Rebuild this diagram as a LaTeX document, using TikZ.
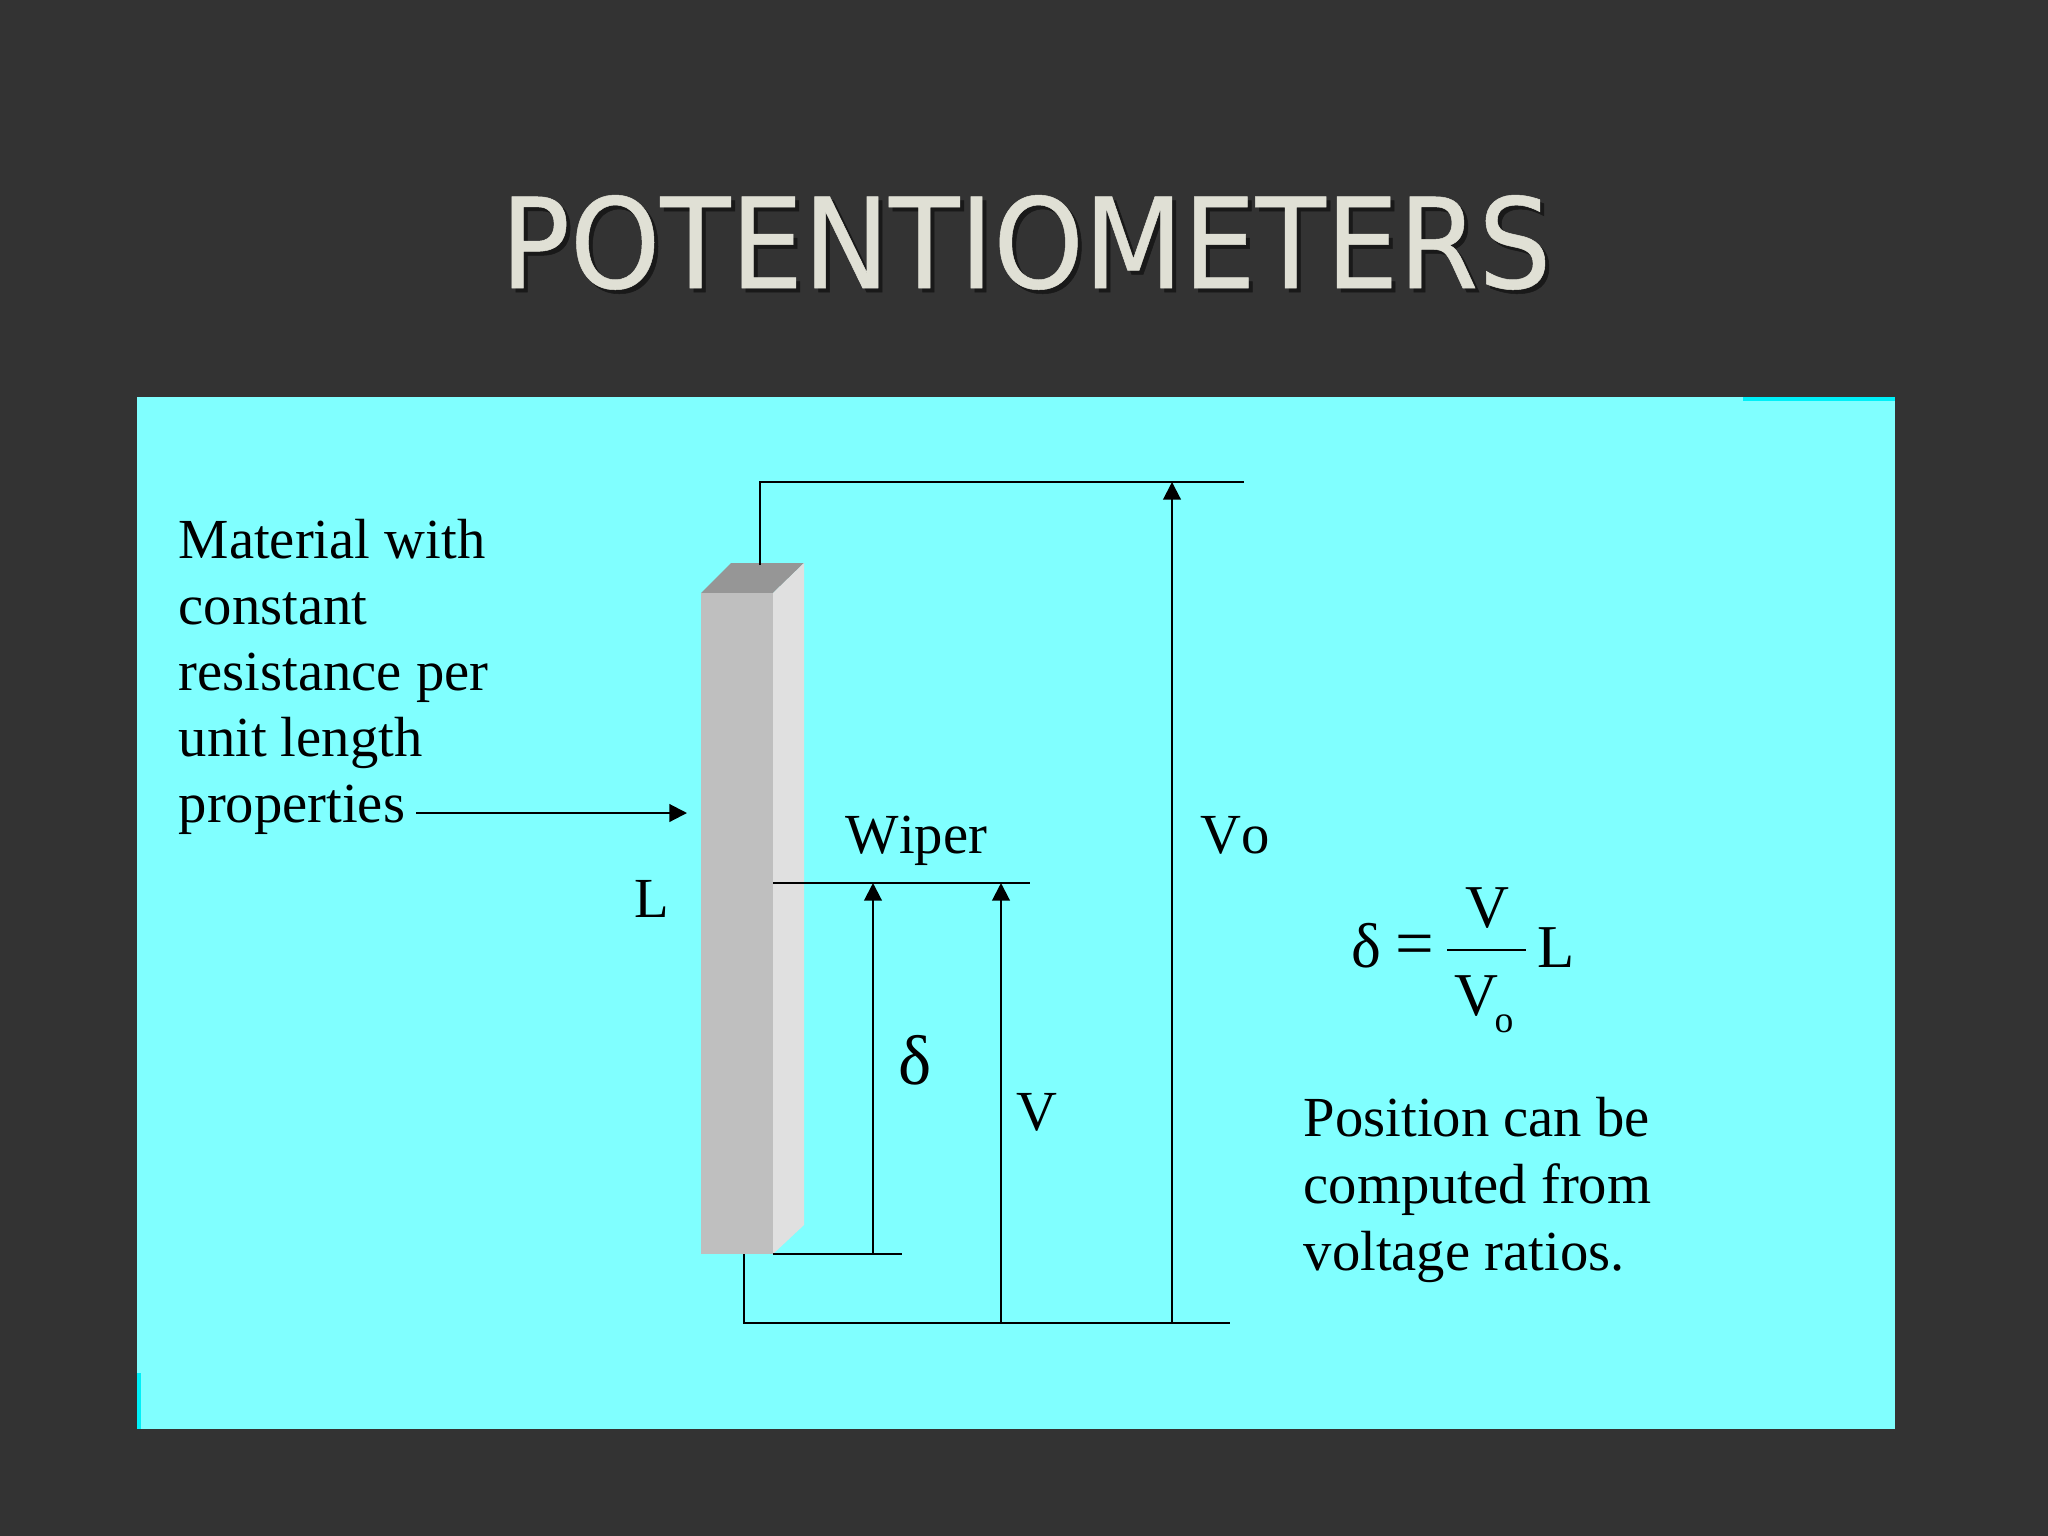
\documentclass[tikz,border=0pt]{standalone}
\usepackage{fontspec}
\setmainfont{Liberation Serif}[Kerning=Off]
\newfontfamily\titlefont[FakeStretch=0.918,FakeBold=0.4]{DejaVu Sans}
\usetikzlibrary{arrows.meta}
\definecolor{slide}{HTML}{333333}
\definecolor{panel}{HTML}{80FFFF}
\definecolor{strip}{HTML}{00F0F8}
\definecolor{titletext}{HTML}{E0E0D5}
\tikzstyle{edge}=[
	-,
	draw=black,
	line width=0.6pt
]
\tikzstyle{dim}=[
	edge,
	-{Triangle[length=5pt,width=5pt]}
]
\tikzstyle{label}=[
	anchor=base west,
	inner sep=0mm,
	font=\fontsize{16.1}{19}\selectfont
]
\tikzstyle{big}=[
	label,
	font=\fontsize{20}{24}\selectfont
]
\tikzstyle{eqn}=[
	label,
	font=\fontsize{17.3}{20}\selectfont
]
\tikzstyle{banner}=[
	anchor=base west,
	inner sep=0mm,
	font=\titlefont\fontsize{35.6}{40}\selectfont
]

\begin{document}
\begin{tikzpicture}[x=0.01cm, y=-0.01cm]
\fill[slide] (0,0) rectangle (2048,1536);
\fill[panel] (137,397) rectangle (1895,1429);
\fill[strip] (1743,397) rectangle (1895,401);
\fill[strip] (137,1373) rectangle (141,1429);

% title with its shadow
\node[banner,black!90] at (504,292) (shadow) {POTENTIOMETERS};
\node[banner,titletext] at (500,288) (title) {POTENTIOMETERS};

% the bar
\fill[black!41] (701,593) -- (731,563) -- (804,563) -- (773,593) -- cycle;
\fill[black!12] (773,593) -- (804,563) -- (804,1225) -- (773,1254) -- cycle;
\fill[black!25] (701,593) rectangle (773,1254);

\foreach \y/\t [count=\n] in {558/Material with, 624/constant, 690/resistance per, 756/unit length, 822/properties}{
    \node[label] at (178,\y) (mat\n) {\t};
}
\foreach \y/\t [count=\n] in {1136/Position can be, 1203/computed from, 1270/voltage ratios.}{
    \node[label] at (1303,\y) (pos\n) {\t};
}
\node[label] at (845,853) (wiper) {Wiper};
\node[label] at (1200,853) (vo) {Vo};
\node[label] at (634,917) (len) {L};
\node[big] at (898,1084) (delta) {δ};
\node[label] at (1016,1130) (volt) {V};

% wires
\coordinate (topa) at (760,565);
\coordinate (topb) at (760,482);
\coordinate (topc) at (1244,482);
\coordinate (bota) at (744,1254);
\coordinate (botb) at (744,1323);
\coordinate (botc) at (1230,1323);
\coordinate (wipa) at (773,883);
\coordinate (wipb) at (1030,883);
\coordinate (enda) at (773,1254);
\coordinate (endb) at (902,1254);
\coordinate (mata) at (416,813);
\coordinate (matb) at (687,813);
\draw[edge] (topa) -- (topb) -- (topc);
\draw[edge] (bota) -- (botb) -- (botc);
\draw[edge] (wipa) -- (wipb);
\draw[edge] (enda) -- (endb);
\draw[dim] (mata) -- (matb);

\foreach \x/\a/\b in {873/1254/883, 1001/1323/883, 1172/1323/482}{
    \coordinate (d\x) at (\x,\a);
    \coordinate (u\x) at (\x,\b);
    \draw[dim] (d\x) -- (u\x);
}

% formula
\node[eqn,font=\fontsize{18}{20}\selectfont] at (1351,967) (fdelta) {δ};
\node[eqn,font=\fontsize{19.5}{20}\selectfont] at (1395,966) (feq) {=};
\node[eqn] at (1465,927) (fv) {V};
\node[eqn] at (1454,1015) (fvo) {V};
\node[label,font=\fontsize{10.7}{12}\selectfont] at (1494,1032) (fo) {o};
\node[eqn] at (1537,967) (fl) {L};
\coordinate (fraca) at (1447,950);
\coordinate (fracb) at (1526,950);
\draw[edge] (fraca) -- (fracb);
\end{tikzpicture}
\end{document}
